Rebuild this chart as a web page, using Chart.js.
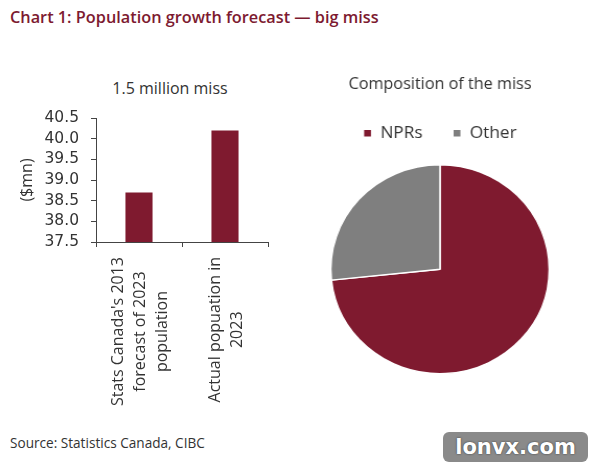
<!DOCTYPE html>
<html>
<head>
<meta charset="utf-8">
<script src="https://cdn.jsdelivr.net/npm/chart.js@4/dist/chart.umd.min.js"></script>
<style>
  body { margin: 0; background: #fff; }
  #wrap { position: relative; width: 590px; height: 466px; overflow: hidden; font-family: "Open Sans", sans-serif; }
  #title { position: absolute; left: 10px; top: 6px; color: #7d1a30; font-size: 16.3px; font-weight: 600; white-space: nowrap; }
  #barTitle { position: absolute; left: 70px; width: 200px; top: 77px; text-align: center; color: #333; font-size: 16px; white-space: nowrap; }
  #source { position: absolute; left: 10px; top: 433px; color: #333; font-size: 13.6px; white-space: nowrap; }
  #mark { position: absolute; left: 443px; top: 432px; width: 145px; height: 30px; border-radius: 6px; background: #8a8a8a;
          color: #fff; font: bold 21px "DejaVu Sans", sans-serif; text-align: center; line-height: 30px; text-shadow: 0 0 2px #333; }
  canvas { position: absolute; }
</style>
</head>
<body>
<div id="wrap">
  <div id="title">Chart 1: Population growth forecast — big miss</div>
  <div id="barTitle">1.5 million miss</div>
  <canvas id="barChart" width="340" height="360" style="left:0;top:60px"></canvas>
  <canvas id="pieChart" width="268" height="325" style="left:300px;top:62px;width:280px;height:325px"></canvas>
  <div id="source">Source: Statistics Canada, CIBC</div>
  <div id="mark">lonvx.com</div>
</div>
<script>
const barLabels = [
  ["Stats Canada's 2013", "forecast of 2023", "population"],
  ["Actual popuation in", "2023"],
];
const barValues = [38.7, 40.2];
const yMin = 37.5, yMax = 40.5, yStep = 0.5;

const pieLabels = ["NPRs", "Other"];
const pieValues = [1.1, 0.4];

const RED = "#7f1a2f";
const GREY = "#7f7f7f";
const TEXT = "#333";
const AXIS = "#444";
const FONT = "'Open Sans', sans-serif";

// rotated, centred multi-line category labels
const catLabels = {
  id: "catLabels",
  afterDraw(chart) {
    const ctx = chart.ctx;
    const xs = chart.scales.x;
    ctx.save();
    ctx.font = "16px " + FONT;
    ctx.fillStyle = TEXT;
    ctx.textAlign = "center";
    ctx.textBaseline = "middle";
    barLabels.forEach((lines, i) => {
      const maxW = Math.max(...lines.map((l) => ctx.measureText(l).width));
      ctx.save();
      ctx.translate(xs.getPixelForValue(i) + 1.5, xs.top + 15);
      ctx.rotate(-Math.PI / 2);
      lines.forEach((l, j) => {
        ctx.fillText(l, -maxW / 2, (j - (lines.length - 1) / 2) * 22);
      });
      ctx.restore();
    });
    ctx.restore();
  },
};

new Chart(document.getElementById("barChart").getContext("2d"), {
  type: "bar",
  data: {
    labels: barLabels,
    datasets: [{ data: barValues, backgroundColor: RED, barPercentage: 0.63, categoryPercentage: 0.5 }],
  },
  options: {
    responsive: false,
    animation: false,
    layout: { padding: { left: 0, right: 72, top: 58, bottom: 0 } },
    plugins: {
      legend: { display: false },
      tooltip: { enabled: false },
    },
    scales: {
      x: {
        grid: { drawOnChartArea: false, drawTicks: true, tickLength: 5, color: AXIS },
        border: { display: true, color: AXIS },
        ticks: { display: false },
        afterFit: (s) => { s.height = 178; },
      },
      y: {
        min: yMin,
        max: yMax,
        grid: { drawOnChartArea: false, drawTicks: true, tickLength: 5, color: AXIS },
        border: { display: true, color: AXIS },
        ticks: {
          stepSize: yStep,
          autoSkip: false,
          padding: 12,
          color: TEXT,
          font: { family: "'DejaVu Sans', sans-serif", size: 15.5 },
          callback: (v) => v.toFixed(1),
        },
        title: {
          display: true,
          text: "($mn)",
          color: TEXT,
          font: { family: FONT, size: 16 },
          padding: { top: 17.4, bottom: 0 },
        },
        afterFit: (s) => { s.width = 96; },
      },
    },
  },
  plugins: [catLabels],
});

new Chart(document.getElementById("pieChart").getContext("2d"), {
  type: "pie",
  data: {
    labels: pieLabels,
    datasets: [{ data: pieValues, backgroundColor: [RED, GREY], borderColor: "#fff", borderWidth: 1.5, radius: 104.5 }],
  },
  options: {
    responsive: false,
    animation: false,
    plugins: {
      tooltip: { enabled: false },
      title: {
        display: true,
        text: "Composition of the miss",
        color: TEXT,
        font: { family: FONT, size: 15.5, weight: "normal" },
        padding: { top: 13.4, bottom: 1.9 },
      },
      legend: {
        position: "top",
        labels: {
          boxWidth: 8,
          boxHeight: 8,
          padding: 29,
          color: TEXT,
          font: { family: FONT, size: 16.5 },
        },
      },
    },
  },
});
</script>
</body>
</html>
